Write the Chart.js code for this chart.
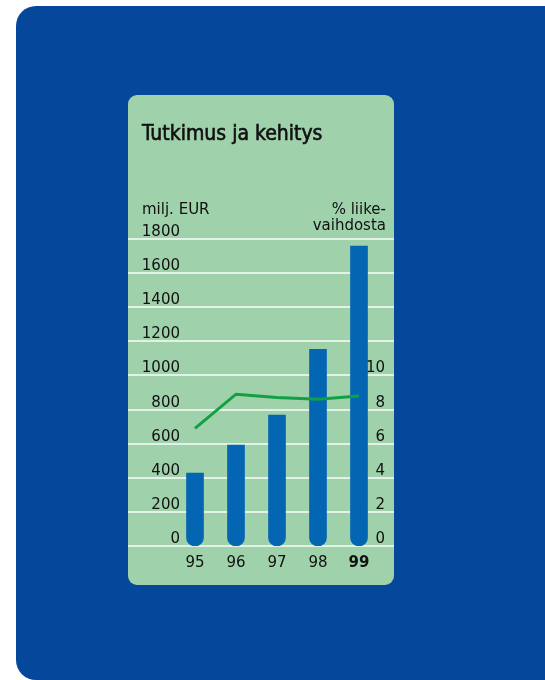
<!DOCTYPE html>
<html>
<head>
<meta charset="utf-8">
<script src="https://cdn.jsdelivr.net/npm/chart.js@4"></script>
<style>
  html, body { margin: 0; padding: 0; background: #fff; width: 545px; height: 680px; overflow: hidden; }
  #panel { position: absolute; left: 16px; top: 6px; width: 540px; height: 674px;
           background: #04479b; border-radius: 20px 0 0 20px; }
  #card { position: absolute; left: 128px; top: 95px; width: 266px; height: 490px;
          background: #9fd1ab; border-radius: 9px; overflow: hidden; }
  #card canvas { position: absolute; left: 0; top: 0; }
  .txt { position: absolute; color: #111; font-family: "DejaVu Sans", sans-serif; font-size: 15px; line-height: 16px; white-space: nowrap; }
  #title { left: 14px; top: 28px; font-family: "DejaVu Sans Condensed", "DejaVu Sans", sans-serif;
           font-size: 21px; line-height: 21px; -webkit-text-stroke: 0.6px #111; }
  #unitLeft { left: 14px; top: 106px; }
  #unitRight { right: 8px; top: 106px; text-align: right; }
</style>
</head>
<body>
<div id="panel"></div>
<div id="card">
  <canvas id="rdChart" width="266" height="490"></canvas>
  <div class="txt" id="title">Tutkimus ja kehitys</div>
  <div class="txt" id="unitLeft">milj. EUR</div>
  <div class="txt" id="unitRight">% liike-<br>vaihdosta</div>
</div>
<script>
const years = ['95', '96', '97', '98', '99'];
const rdSpend = [428, 592, 767, 1153, 1758];   // milj. EUR
const rdShare = [6.9, 8.9, 8.7, 8.6, 8.8];      // % liikevaihdosta
const eurTicks = [0, 200, 400, 600, 800, 1000, 1200, 1400, 1600, 1800];
const pctTicks = [0, 2, 4, 6, 8, 10];

const textFont = '15px "DejaVu Sans", sans-serif';

// white gridlines across the whole card + tick labels sitting above the lines
const gridAndLabels = {
  id: 'gridAndLabels',
  beforeDatasetsDraw(chart) {
    const {ctx, scales: {y}} = chart;
    ctx.save();
    ctx.strokeStyle = 'rgba(255,255,255,0.95)';
    ctx.lineWidth = 1.5;
    eurTicks.forEach((v) => {
      const py = Math.round(y.getPixelForValue(v));
      ctx.beginPath();
      ctx.moveTo(0, py);
      ctx.lineTo(chart.width, py);
      ctx.stroke();
    });
    ctx.restore();
  },
  afterDatasetsDraw(chart) {
    const {ctx, scales: {y, y1}} = chart;
    ctx.save();
    ctx.fillStyle = '#111';
    ctx.font = textFont;
    ctx.textAlign = 'right';
    ctx.textBaseline = 'alphabetic';
    eurTicks.forEach((v) => {
      ctx.fillText(String(v), 52, y.getPixelForValue(v) - 3);
    });
    pctTicks.forEach((v) => {
      ctx.fillText(String(v), 257, y1.getPixelForValue(v) - 3);
    });
    ctx.restore();
  }
};

const ctx = document.getElementById('rdChart').getContext('2d');
new Chart(ctx, {
  data: {
    labels: years,
    datasets: [
      {
        type: 'line',
        data: rdShare,
        yAxisID: 'y1',
        borderColor: '#10a144',
        borderWidth: 3,
        pointRadius: 0,
        tension: 0,
        order: 0
      },
      {
        type: 'bar',
        data: rdSpend,
        yAxisID: 'y',
        backgroundColor: '#0466b3',
        barThickness: 17,
        borderWidth: 0,
        borderSkipped: false,
        borderRadius: {topLeft: 0, topRight: 0, bottomLeft: 8.5, bottomRight: 8.5},
        order: 1
      }
    ]
  },
  options: {
    responsive: false,
    animation: false,
    devicePixelRatio: 1,
    layout: {padding: {left: 46.5, right: 14.5, top: 144, bottom: 13}},
    plugins: {legend: {display: false}, tooltip: {enabled: false}},
    scales: {
      x: {
        grid: {display: false},
        border: {display: false},
        ticks: {
          color: '#111',
          padding: 0,
          font: (c) => ({family: '"DejaVu Sans", sans-serif', size: 15, weight: c.index === 4 ? 'bold' : 'normal'})
        }
      },
      y: {display: false, min: 0, max: 1800},
      y1: {display: false, position: 'right', min: 0, max: 18}
    }
  },
  plugins: [gridAndLabels]
});
</script>
</body>
</html>
